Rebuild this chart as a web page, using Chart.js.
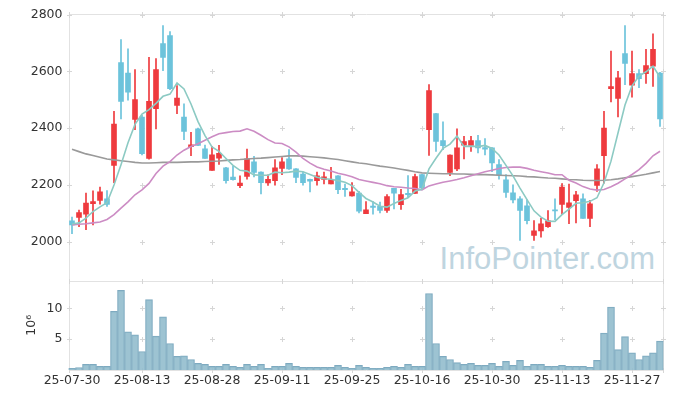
<!DOCTYPE html>
<html><head><meta charset="utf-8">
<script src="https://cdn.jsdelivr.net/npm/chart.js@4.4.0/dist/chart.umd.min.js"></script>
<style>
html,body{margin:0;padding:0;background:#fff;}
#wrap{position:relative;width:673px;height:399px;overflow:hidden;}
#wm{position:absolute;right:18px;top:243px;font:31px/31px 'Liberation Sans',Arial,sans-serif;color:#bfd5e0;white-space:nowrap;}
#c{position:absolute;left:0;top:0;}
</style></head><body>
<div id="wrap"><div id="wm">InfoPointer.com</div><canvas id="c" width="673" height="399" style="width:673px;height:399px"></canvas></div>
<script>
const dates = ['25-07-30','25-07-31','25-08-01','25-08-04','25-08-05','25-08-06','25-08-07','25-08-08','25-08-11','25-08-12',
'25-08-13','25-08-14','25-08-18','25-08-19','25-08-20','25-08-21','25-08-22','25-08-25','25-08-26','25-08-27',
'25-08-28','25-08-29','25-09-01','25-09-02','25-09-03','25-09-04','25-09-05','25-09-08','25-09-09','25-09-10',
'25-09-11','25-09-12','25-09-15','25-09-16','25-09-17','25-09-18','25-09-19','25-09-22','25-09-23','25-09-24',
'25-09-25','25-09-26','25-09-29','25-09-30','25-10-01','25-10-02','25-10-10','25-10-13','25-10-14','25-10-15',
'25-10-16','25-10-17','25-10-20','25-10-21','25-10-22','25-10-23','25-10-24','25-10-27','25-10-28','25-10-29',
'25-10-30','25-10-31','25-11-03','25-11-04','25-11-05','25-11-06','25-11-07','25-11-10','25-11-11','25-11-12',
'25-11-13','25-11-14','25-11-17','25-11-18','25-11-19','25-11-20','25-11-21','25-11-24','25-11-25','25-11-26',
'25-11-27','25-11-28','25-12-01','25-12-02','25-12-03'];
const opens = [2073,2085,2097,2134,2145,2151,2268,2631,2594,2430,
2439,2293,2468,2698,2726,2480,2439,2334,2397,2327,
2251,2294,2260,2227,2197,2230,2281,2245,2207,2215,
2258,2292,2256,2238,2219,2215,2219,2203,2232,2188,
2161,2171,2098,2125,2124,2110,2188,2130,2170,2170,
2236,2394,2451,2356,2244,2256,2340,2339,2356,2331,
2330,2271,2218,2172,2151,2126,2022,2038,2053,2112,
2131,2120,2144,2151,2082,2198,2303,2539,2504,2662,
2551,2592,2592,2618,2594];
const highs = [2086,2111,2171,2179,2192,2180,2459,2712,2679,2606,
2445,2649,2645,2761,2740,2550,2485,2385,2400,2340,
2335,2339,2262,2265,2232,2326,2300,2246,2235,2289,
2296,2324,2257,2245,2220,2245,2245,2262,2233,2203,
2208,2177,2141,2141,2139,2166,2188,2184,2233,2238,
2237,2553,2452,2422,2306,2397,2371,2371,2374,2363,
2331,2289,2236,2200,2159,2147,2074,2082,2109,2151,
2204,2203,2177,2168,2145,2271,2459,2671,2600,2761,
2671,2606,2677,2732,2596];
const lows = [2028,2053,2042,2059,2132,2124,2208,2432,2498,2394,
2305,2290,2397,2602,2535,2451,2359,2303,2338,2293,
2251,2272,2206,2216,2190,2220,2228,2168,2198,2199,
2236,2254,2208,2199,2175,2199,2203,2203,2169,2159,
2160,2101,2098,2097,2101,2103,2115,2113,2156,2170,
2183,2304,2318,2324,2232,2250,2291,2318,2312,2305,
2246,2220,2156,2136,2004,2062,2004,2016,2050,2077,
2097,2063,2066,2082,2053,2177,2206,2492,2439,2553,
2509,2542,2557,2547,2406];
const closes = [2059,2102,2136,2141,2175,2131,2414,2494,2526,2500,
2310,2494,2606,2649,2539,2506,2388,2341,2339,2293,
2306,2311,2215,2218,2206,2292,2244,2208,2219,2260,
2281,2256,2226,2208,2213,2232,2228,2218,2183,2183,
2175,2107,2112,2120,2110,2159,2171,2166,2165,2229,
2189,2532,2353,2338,2305,2330,2352,2356,2330,2326,
2277,2236,2173,2147,2110,2074,2038,2063,2073,2108,
2192,2137,2165,2082,2133,2256,2400,2546,2577,2628,
2592,2574,2620,2677,2432];
const volumes = [0.27,0.4,0.9,0.9,0.6,0.6,9.5,12.9,6.2,5.7,
3.0,11.4,5.5,8.6,4.3,2.2,2.3,1.7,1.07,0.9,
0.6,0.6,0.9,0.6,0.43,0.9,0.6,0.9,0.27,0.6,
0.6,1.07,0.6,0.43,0.43,0.43,0.43,0.43,0.75,0.43,
0.27,0.75,0.43,0.27,0.27,0.43,0.6,0.43,0.9,0.6,
0.6,12.4,4.3,2.2,1.7,1.2,0.9,1.07,0.75,0.75,
1.07,0.6,1.4,0.75,1.55,0.6,0.9,0.9,0.6,0.6,
0.75,0.6,0.6,0.6,0.43,1.55,6.0,10.2,3.3,5.4,
2.8,1.7,2.3,2.8,4.7];
const ma5 = [2062,2066,2083,2106,2122.6,2137,2199.4,2271,2348,2413,
2448.8,2464.8,2487.2,2511.8,2519.6,2558.8,2537.6,2484.6,2422.6,2373.4,
2333.4,2318,2292.8,2268.6,2251.2,2248.4,2235,2233.6,2233.8,2244.6,
2242.4,2244.8,2248.4,2246.2,2236.8,2227,2221.4,2219.8,2214.8,2208.8,
2197.4,2173.2,2152,2139.4,2124.8,2121.6,2134.4,2145.2,2154.2,2178,
2184,2256.2,2293.6,2328.2,2343.4,2371.6,2335.6,2336.2,2334.6,2338.8,
2328.2,2305,2268.4,2231.8,2188.6,2148,2108.4,2086.4,2071.6,2071.2,
2094.8,2114.6,2135,2136.8,2141.8,2154.6,2207.2,2283.4,2382.4,2481.4,
2548.6,2583.4,2598.2,2618.2,2579];
const ma20 = [2059,2061,2063,2066,2069,2078,2095,2118,2140,2165,
2182,2205,2240,2266,2282,2305,2322,2335,2345,2357.2,
2369.5,2380,2383.9,2387.8,2389.3,2397.4,2388.9,2374.6,2359.2,2347.2,
2345.8,2333.9,2314.9,2292.8,2276.5,2262.8,2254.8,2248.7,2240.9,2235.4,
2228.8,2218.6,2213.5,2208.6,2203.8,2197.1,2193.5,2191.4,2188.7,2187.1,
2182.5,2196.3,2202.7,2209.2,2213.8,2218.7,2224.9,2231.8,2239.1,2246.3,
2251.4,2257.8,2260.9,2262.2,2262.2,2258,2251.3,2246.2,2241.6,2235.5,
2235.7,2215.9,2206.5,2193.7,2185.1,2181.4,2183.8,2193.3,2205.7,2220.8,
2236.5,2253.4,2275.8,2302.3,2318.4];
const ma120 = [2325,2317,2309,2303,2297,2291,2288,2285,2282,2279,
2277,2277,2278,2279,2279,2279,2280,2281,2281,2282,
2283,2284,2286,2288,2289,2291,2293,2294,2296,2298,
2300,2302,2302,2301,2299,2297,2295,2292,2289,2285,
2281,2277,2274,2270,2266,2263,2259,2255,2251,2246,
2242,2241,2240,2239,2239,2238,2238,2237,2236,2236,
2235,2234,2233,2232,2231,2229,2228,2226,2224,2223,
2221,2219,2218,2216,2215,2215,2216,2218,2221,2225,
2229,2233,2237,2242,2247];
const priceTicks = [2000,2200,2400,2600,2800];
const volumeTicks = [5,10];
const labelEvery = 10;

const UP = '#ee3a3e', DOWN = '#6cc3db';
const candleColors = closes.map((c,i)=> c >= opens[i] ? UP : DOWN);

Chart.defaults.font.family = "'DejaVu Sans', sans-serif";
Chart.defaults.font.size = 12.5;
Chart.defaults.color = '#333';

const framePlugin = {
  id: 'frame',
  beforeDatasetsDraw(chart) {
    const {ctx, chartArea: a, scales} = chart;
    const xs = scales.x, ys = scales.y, yv = scales.yv;
    ctx.save();
    ctx.strokeStyle = '#e2e2e2';
    ctx.lineWidth = 1;
    const L = Math.round(a.left) + 0.5, R = Math.floor(a.right) + 0.5;
    const T = Math.floor(a.top) + 0.5, B = Math.round(a.bottom) + 0.5;
    const S = Math.round(yv.top) + 0.5;
    ctx.beginPath();
    ctx.moveTo(L, T); ctx.lineTo(R, T); ctx.lineTo(R, B); ctx.lineTo(L, B); ctx.closePath();
    ctx.moveTo(L, S); ctx.lineTo(R, S);
    ctx.stroke();
    ctx.strokeStyle = '#d6d6d6';
    const xsPos = [];
    for (let i = labelEvery; i < dates.length; i += labelEvery) xsPos.push(Math.round(xs.getPixelForValue(i)) + 0.5);
    const ysPos = priceTicks.map(v => Math.round(ys.getPixelForValue(v)) + 0.5)
      .concat(volumeTicks.map(v => Math.round(yv.getPixelForValue(v)) + 0.5));
    ctx.beginPath();
    for (const x of xsPos.concat([L, R])) {
      for (const y of ysPos) {
        ctx.moveTo(x - 2.5, y); ctx.lineTo(x + 2.5, y);
        ctx.moveTo(x, y - 2.5); ctx.lineTo(x, y + 2.5);
      }
      for (const y of [T, S, B]) {
        ctx.moveTo(x, y - 2.5); ctx.lineTo(x, y + 2.5);
      }
    }
    ctx.stroke();
    ctx.restore();
  }
};

new Chart(document.getElementById('c'), {
  type: 'bar',
  data: {
    labels: dates,
    datasets: [
      { type: 'line', label: 'MA5', data: ma5, yAxisID: 'y', borderColor: '#8ccac3', borderWidth: 1.6, pointRadius: 0, order: 0 },
      { type: 'line', label: 'MA20', data: ma20, yAxisID: 'y', borderColor: '#cc8cc4', borderWidth: 1.6, pointRadius: 0, order: 0 },
      { type: 'line', label: 'MA120', data: ma120, yAxisID: 'y', borderColor: '#9a9a9a', borderWidth: 1.6, pointRadius: 0, order: 0 },
      { label: 'body', data: opens.map((o,i)=>[o, closes[i]]), yAxisID: 'y', backgroundColor: candleColors, barThickness: 5, grouped: false, order: 1 },
      { label: 'wick', data: lows.map((l,i)=>[l, highs[i]]), yAxisID: 'y', backgroundColor: candleColors, barThickness: 1, grouped: false, order: 2 },
      { label: 'volume', data: volumes, yAxisID: 'yv', backgroundColor: 'rgba(146,188,205,0.9)', borderColor: '#7eaac0', borderWidth: 1, barPercentage: 1, categoryPercentage: 1, grouped: false, order: 3 }
    ]
  },
  options: {
    responsive: false,
    animation: false,
    devicePixelRatio: 1,
    layout: { padding: { top: 14.5, right: 9.5, bottom: 0, left: 0 } },
    plugins: { legend: { display: false }, tooltip: { enabled: false } },
    scales: {
      x: {
        type: 'category', offset: true,
        grid: { display: false, drawTicks: false }, border: { display: false },
        ticks: { autoSkip: false, maxRotation: 0, padding: 3, callback: (v, i) => (i % labelEvery === 0 ? dates[i] : null) },
        afterFit: s => { s.height = 29; }
      },
      yv: {
        type: 'linear', position: 'left', stack: 'panes', stackWeight: 89.5,
        min: 0, max: 14.5,
        grid: { display: false, drawTicks: false }, border: { display: false },
        ticks: { padding: 6, callback: v => String(v) },
        afterBuildTicks: s => { s.ticks = volumeTicks.map(v => ({ value: v })); },
        afterFit: s => { s.width = 68.5; },
        title: { display: true, text: '10⁶', padding: { top: 24, bottom: 0 }, color: '#333' }
      },
      y: {
        type: 'linear', position: 'left', stack: 'panes', stackWeight: 266,
        min: 1863, max: 2800,
        grid: { display: false, drawTicks: false }, border: { display: false },
        ticks: { padding: 6, callback: v => String(v) },
        afterBuildTicks: s => { s.ticks = priceTicks.map(v => ({ value: v })); },
        afterFit: s => { s.width = 68.5; }
      }
    }
  },
  plugins: [framePlugin]
});
</script>
</body></html>
